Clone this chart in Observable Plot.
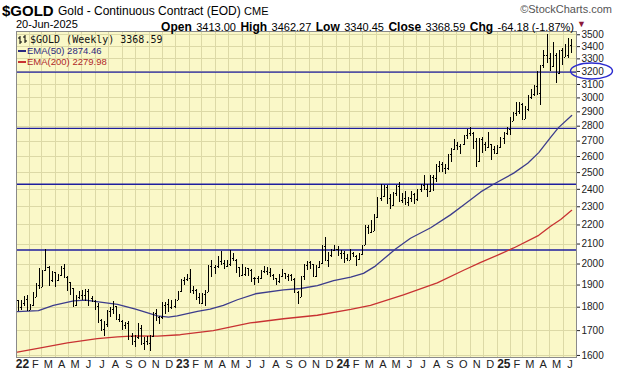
<!DOCTYPE html>
<html><head><meta charset="utf-8">
<script src="https://cdn.jsdelivr.net/npm/d3@7"></script>
<script src="https://cdn.jsdelivr.net/npm/@observablehq/plot@0.6"></script>
<style>
body{margin:0;background:#fff;}
#wrap{position:relative;width:620px;height:376px;overflow:hidden;font-family:"Liberation Sans",Arial,sans-serif;}
#wrap > svg{position:absolute;left:0;top:0;}
.h{position:absolute;white-space:nowrap;color:#000;line-height:1;}
.b{font-weight:bold;font-size:12px;}
.n{font-size:11px;}
.lg{position:absolute;left:18px;white-space:nowrap;line-height:10px;height:10px;}
.lg svg{position:absolute;left:0;top:0;}
</style></head><body><div id="wrap">
<div class="h" style="left:2px;top:3px;font-size:15px;font-weight:bold;">$GOLD</div>
<div class="h" style="left:58px;top:5px;font-size:12px;">Gold - Continuous Contract (EOD) <span style="font-size:11px">CME</span></div>
<div class="h" style="right:8px;top:4px;font-size:11px;color:#555;">©StockCharts.com</div>
<div class="h" style="left:16px;top:19px;font-size:11px;">20-Jun-2025</div>
<div class="h" style="right:46px;top:18px;"><span class="b">Open</span> <span class="n">3413.00</span> <span class="b">High</span> <span class="n">3462.27</span> <span class="b">Low</span> <span class="n">3340.45</span> <span class="b">Close</span> <span class="n">3368.59</span> <span class="b">Chg</span> <span class="n">-64.18 (-1.87%)</span></div>
<div class="h" style="left:577px;top:20px;font-size:9px;color:#8b1a3a;">▼</div>
</div>
<script>
// ---- data (weekly OHLC, Fridays from 2022-01-07 to 2025-06-20) ----
const opens = [
1829,1797,1817,1834,1786,1806,1843,1900,1890,1970,1985,1921,1958,1923,1946,1976,1934,1910,1882,1808,1842,1852,1852,1871,1840,1827,1801,1741,1703,1727,1781,1791,1802,1747,1738,1722,1728,1675,1655,1672,1709,1648,1656,1648,1676,1771,1754,1754,1809,1810,1800,1804,
1830,1869,1921,1928,1929,1876,1874,1842,1817,1856,1867,1989,1983,1986,2011,2002,1990,1999,2025,2019,1981,1944,1948,1977,1971,1929,1929,1932,1964,1964,1960,1943,1929,1915,1940,1953,1942,1945,1925,1866,1845,1941,1994,2006,1999,1941,1984,2002,2089,2015,2040,2069,
2072,2050,2051,2029,2018,2054,2039,2024,2045,2092,2185,2161,2165,2238,2345,2360,2413,2349,2308,2375,2419,2335,2348,2325,2349,2370,2340,2398,2421,2400,2386,2473,2467,2538,2547,2527,2525,2611,2646,2668,2667,2676,2737,2749,2749,2694,2570,2712,2680,2656,2675,2645,
2621,2655,2715,2748,2780,2835,2886,2900,2954,2848,2915,3001,3026,3084,3035,3245,3330,3300,3240,3330,3186,3366,3315,3331,3413];
const highs = [
1831,1830,1848,1853,1812,1865,1905,1976,1970,2070,1990,1966,1960,1950,1988,2000,1940,1910,1885,1850,1870,1875,1880,1880,1848,1830,1815,1745,1739,1785,1800,1824,1805,1770,1742,1735,1740,1688,1680,1730,1720,1670,1675,1680,1775,1790,1760,1820,1820,1835,1830,1834,
1870,1925,1935,1949,1975,1895,1880,1860,1860,1875,1995,2015,1995,2035,2063,2018,2015,2067,2050,2022,1985,1999,1985,1980,1975,1935,1942,1970,1990,1985,1980,1950,1930,1950,1975,1955,1950,1950,1930,1870,1940,2000,2010,2010,2000,1995,2010,2095,2135,2055,2070,2095,
2085,2065,2060,2045,2070,2055,2040,2050,2095,2195,2195,2225,2255,2350,2431,2420,2420,2370,2380,2425,2440,2375,2390,2355,2390,2375,2400,2430,2483,2430,2480,2480,2550,2570,2560,2550,2615,2650,2710,2690,2680,2740,2780,2788,2760,2715,2720,2725,2690,2760,2680,2665,
2670,2725,2760,2790,2862,2895,2968,2970,2960,2935,3017,3065,3095,3200,3250,3371,3500,3340,3435,3340,3370,3385,3420,3470,3462.27];
const lows = [
1782,1785,1805,1780,1784,1805,1842,1878,1890,1964,1895,1910,1890,1915,1940,1930,1872,1850,1798,1802,1836,1830,1825,1805,1820,1784,1730,1696,1676,1712,1754,1770,1745,1735,1700,1705,1660,1640,1630,1665,1640,1620,1640,1616,1672,1740,1727,1745,1770,1778,1790,1795,
1828,1865,1896,1915,1862,1858,1830,1815,1810,1805,1865,1935,1948,1980,1995,1975,1985,1990,2010,1952,1937,1938,1940,1938,1913,1900,1905,1925,1955,1945,1934,1920,1900,1905,1935,1925,1915,1915,1860,1810,1845,1920,1970,1975,1935,1935,1980,2000,2010,1985,2030,2060,
2035,2020,2005,2010,2015,2030,1990,2015,2040,2090,2150,2155,2165,2235,2330,2350,2310,2285,2300,2360,2325,2320,2305,2300,2325,2310,2330,2380,2400,2352,2380,2385,2440,2500,2500,2490,2510,2560,2640,2640,2610,2670,2710,2730,2645,2530,2565,2620,2630,2650,2575,2610,
2615,2650,2680,2740,2740,2830,2870,2880,2840,2845,2905,2990,3010,3015,2945,3220,3265,3200,3230,3105,3180,3245,3310,3300,3340.45];
const closes = [
1797,1817,1831,1785,1807,1842,1899,1889,1966,1985,1922,1958,1923,1945,1974,1934,1911,1882,1808,1842,1852,1850,1871,1840,1827,1801,1742,1703,1727,1781,1791,1802,1747,1738,1722,1728,1675,1655,1672,1709,1648,1656,1648,1676,1771,1754,1754,1809,1810,1800,1804,1826,
1869,1921,1928,1929,1876,1874,1842,1817,1856,1867,1989,1983,1986,2011,2002,1990,1999,2025,2019,1981,1944,1948,1977,1971,1929,1929,1932,1964,1964,1960,1943,1929,1915,1940,1953,1942,1945,1925,1866,1845,1941,1994,2006,1999,1941,1984,2002,2089,2015,2040,2069,2072,
2050,2051,2029,2018,2054,2039,2024,2045,2092,2185,2161,2165,2238,2345,2360,2413,2349,2308,2375,2419,2335,2348,2325,2349,2370,2340,2398,2421,2400,2386,2473,2467,2538,2547,2527,2525,2611,2646,2668,2667,2676,2737,2749,2749,2694,2570,2712,2680,2656,2675,2645,2621,
2655,2715,2748,2780,2835,2886,2900,2954,2848,2915,3001,3026,3084,3035,3245,3330,3300,3240,3330,3186,3366,3315,3331,3432.77,3368.59];

// EMA readings from the chart
const ema50Dates = ["2022-01-05","2022-02-22","2022-03-28","2022-05-13","2022-06-09","2022-07-13","2022-08-21","2022-10-01","2022-11-20","2022-12-15","2023-01-04","2023-02-19","2023-03-20","2023-04-19","2023-05-21","2023-07-01","2023-09-03","2023-10-12","2023-11-19","2023-12-26","2024-02-03","2024-03-03","2024-03-30","2024-05-15","2024-06-18","2024-08-03","2024-09-17","2024-10-17","2024-11-25","2024-12-24","2025-02-08","2025-03-12","2025-04-06","2025-05-03","2025-05-21","2025-06-20"];
const ema50Values = [1781,1785,1808,1828,1831,1822,1812,1791,1762,1757,1762,1782,1792,1808,1833,1860,1878,1884,1897,1921,1937,1955,1990,2075,2130,2185,2255,2310,2385,2430,2497,2558,2625,2725,2790,2874.46];
const ema200Dates = ["2022-01-05","2022-03-05","2022-04-29","2022-07-06","2022-08-21","2022-10-01","2022-11-20","2023-01-11","2023-03-27","2023-06-19","2023-09-03","2023-11-19","2024-02-03","2024-03-19","2024-06-02","2024-08-18","2024-10-17","2024-11-25","2025-01-09","2025-02-08","2025-04-06","2025-05-03","2025-05-26","2025-06-20"];
const ema200Values = [1613,1632,1650,1667,1674,1678,1677,1683,1700,1732,1750,1765,1790,1808,1855,1910,1970,2008,2050,2080,2145,2193,2230,2279.98];

const supportLevels = [2070, 2430, 2785, 3195];
const highlightTick = 3200;
const yTicks = d3.range(1600, 3501, 100);
const monthLetters = ["J","F","M","A","M","J","J","A","S","O","N","D"];

// ---- build tables ----
const weeks = d3.utcFriday.range(new Date(Date.UTC(2022,0,7)), new Date(Date.UTC(2025,5,21)));
const bars = weeks.map((date,i)=>({date, open:opens[i], high:highs[i], low:lows[i], close:closes[i]}));
const ema50 = ema50Dates.map((d,i)=>({date:new Date(d), value:ema50Values[i]}));
const ema200 = ema200Dates.map((d,i)=>({date:new Date(d), value:ema200Values[i]}));
const xStart = new Date(Date.UTC(2022,0,3)), xEnd = new Date(Date.UTC(2025,6,1));
const monthStarts = d3.utcMonth.range(new Date(Date.UTC(2022,0,1)), new Date(Date.UTC(2025,6,1)));
const monthLabels = monthStarts.map(m=>{
  const next = d3.utcMonth.offset(m,1);
  const isYear = m.getUTCMonth()===0;
  return {mid:new Date((+m + +next)/2), label: isYear ? String(m.getUTCFullYear()%100).padStart(2,"0") : monthLetters[m.getUTCMonth()], year:isYear};
});
const half = 2.3*864e5;

const plot = Plot.plot({
  width:620, height:376, marginTop:31, marginBottom:19, marginLeft:16, marginRight:44,
  style:{fontFamily:'"Liberation Sans", Arial, sans-serif', fontSize:"10px", color:"#222", background:"transparent", overflow:"visible"},
  x:{type:"utc", domain:[xStart, xEnd], axis:null},
  y:{type:"log", domain:[1592, 3528]},
  marks:[
    Plot.frame({fill:"#faf8c8"}),
    Plot.ruleY(yTicks, {stroke:"#dcd9a6", strokeWidth:1, shapeRendering:"crispEdges"}),
    Plot.ruleX(monthStarts.filter(d=>d>xStart), {stroke:"#dcd9a6", strokeWidth:1, shapeRendering:"crispEdges"}),
    Plot.ruleY(supportLevels, {stroke:"#1e1e9e", strokeWidth:1.4}),
    Plot.line(ema200, {x:"date", y:"value", stroke:"#c83232", strokeWidth:1.3}),
    Plot.line(ema50, {x:"date", y:"value", stroke:"#3c3c8c", strokeWidth:1.3}),
    Plot.ruleX(bars, {x:"date", y1:"low", y2:"high", stroke:"#000", strokeWidth:1, shapeRendering:"crispEdges"}),
    Plot.ruleY(bars, {y:"open", x1:d=>new Date(+d.date-half), x2:"date", stroke:"#000", strokeWidth:1, shapeRendering:"crispEdges"}),
    Plot.ruleY(bars, {y:"close", x1:"date", x2:d=>new Date(+d.date+half), stroke:"#000", strokeWidth:1, shapeRendering:"crispEdges"}),
    Plot.frame({stroke:"#8a8a8a"}),
    Plot.axisY({ticks:yTicks, anchor:"right", tickSize:3, tickPadding:2, tickFormat:d=>String(d), label:null, fontSize:10}),
    Plot.text(monthLabels.filter(d=>!d.year), {x:"mid", text:"label", frameAnchor:"bottom", dy:10, fontSize:11, fill:"#222"}),
    Plot.text(monthLabels.filter(d=>d.year), {x:"mid", text:"label", frameAnchor:"bottom", dy:10, fontSize:12, fontWeight:"bold", fill:"#222"})
  ]
});
const wrap = document.getElementById("wrap");
wrap.insertBefore(plot, wrap.firstChild);

// highlight ellipse around the 3200 label
const xS = plot.scale("x"), yS = plot.scale("y");
d3.select(plot).append("ellipse")
  .attr("cx", xS.range[1] + 15.5).attr("cy", yS.apply(highlightTick))
  .attr("rx", 21).attr("ry", 8).attr("fill","none").attr("stroke","#2b2bcf").attr("stroke-width",1.4);

// legend
const legendRows = [
 {top:35, icon:'<svg width="10" height="10"><path d="M2 1V9M0 3H2M2 7H4M7 0V8M5 2H7M7 6H9" stroke="#000" fill="none"/></svg>', text:"$GOLD (Weekly) 3368.59", css:"font-family:'DejaVu Sans Mono',monospace;font-size:10px;color:#111;padding-left:12px;"},
 {top:46, icon:'<svg width="9" height="10"><path d="M0 5H8" stroke="#2a2a80" stroke-width="2"/></svg>', text:"EMA(50) 2874.46", css:"font-size:9.5px;color:#2a2a80;padding-left:9px;"},
 {top:56.5, icon:'<svg width="9" height="10"><path d="M0 5H8" stroke="#c83232" stroke-width="2"/></svg>', text:"EMA(200) 2279.98", css:"font-size:9.5px;color:#b02828;padding-left:9px;"}
];
for (const r of legendRows) {
  const el = document.createElement("div");
  el.className = "lg";
  el.style.cssText += "top:"+r.top+"px;"+r.css;
  el.innerHTML = r.icon + "<span>" + r.text + "</span>";
  wrap.appendChild(el);
}
</script>
</body></html>
